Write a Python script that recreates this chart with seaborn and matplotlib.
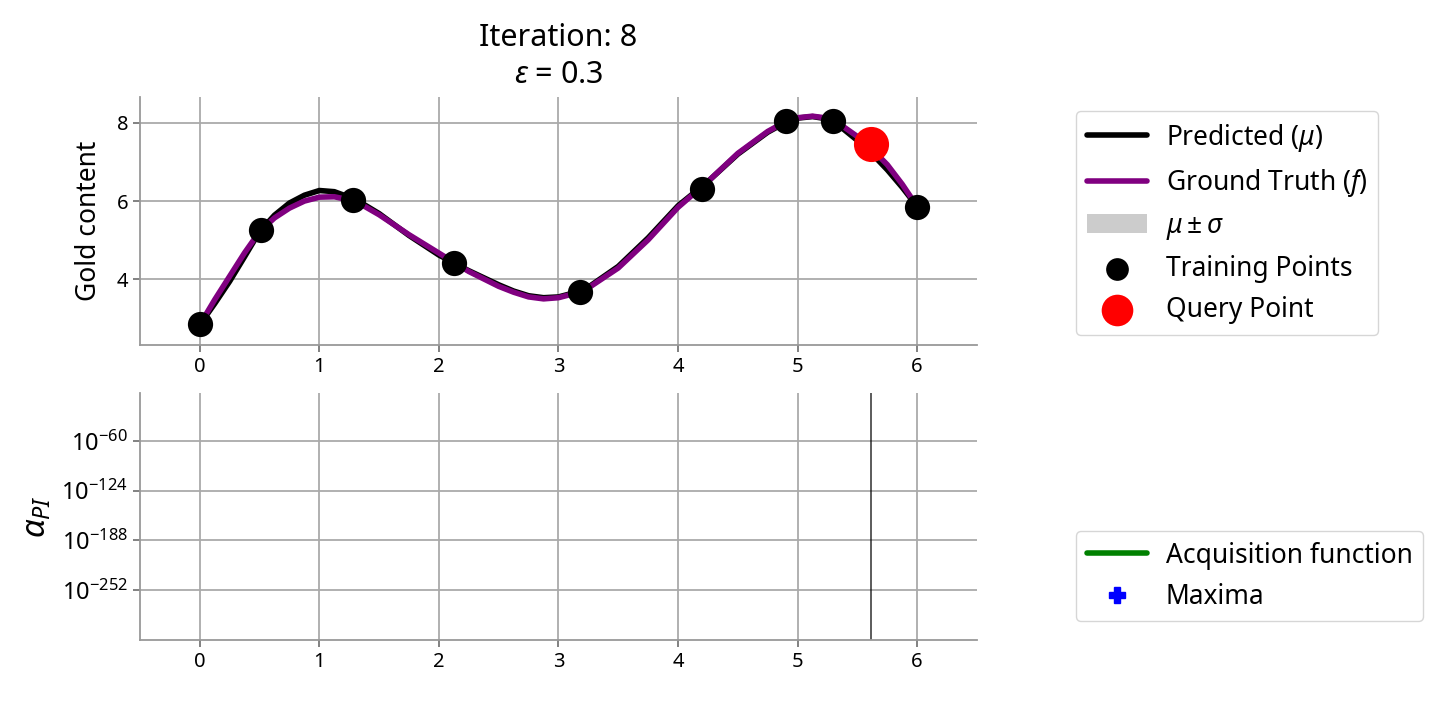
"""Bayesian optimisation snapshot: GP fit on top, PI acquisition below."""

import matplotlib

matplotlib.use("Agg")
import matplotlib.pyplot as plt
import numpy as np
import seaborn as sns
from matplotlib.lines import Line2D
from matplotlib.ticker import FixedLocator, LogFormatterSciNotation, NullLocator

# values
x_grid = [0, 0.125, 0.25, 0.375, 0.5, 0.625, 0.75, 0.875, 1.0, 1.125, 1.25, 1.375,
          1.5, 1.75, 2.0, 2.25, 2.5, 2.625, 2.75, 2.875, 3.0, 3.125, 3.25, 3.5,
          3.75, 4.0, 4.25, 4.5, 4.75, 4.875, 5.0, 5.125, 5.25, 5.375, 5.5, 5.625,
          5.75, 5.875, 6.0]
ground_truth = [2.84, 3.48, 4.08, 4.68, 5.22, 5.57, 5.82, 6.00, 6.10, 6.11, 6.03,
                5.87, 5.65, 5.14, 4.67, 4.20, 3.82, 3.67, 3.55, 3.50, 3.53, 3.63,
                3.78, 4.29, 5.01, 5.84, 6.50, 7.22, 7.78, 7.99, 8.13, 8.17, 8.12,
                7.92, 7.65, 7.32, 6.93, 6.43, 5.86]
predicted = [2.84, 3.38, 3.95, 4.58, 5.22, 5.64, 5.95, 6.15, 6.27, 6.24, 6.10,
             5.91, 5.68, 5.12, 4.62, 4.22, 3.86, 3.70, 3.58, 3.53, 3.55, 3.65,
             3.80, 4.33, 5.06, 5.88, 6.50, 7.20, 7.76, 7.97, 8.12, 8.16, 8.10,
             7.86, 7.55, 7.20, 6.80, 6.35, 5.86]
sigma = [0.0, 0.02, 0.03, 0.02, 0.0, 0.02, 0.02, 0.03, 0.03, 0.02, 0.0, 0.01,
         0.02, 0.03, 0.02, 0.0, 0.02, 0.03, 0.03, 0.03, 0.02, 0.01, 0.0, 0.02,
         0.03, 0.02, 0.0, 0.02, 0.02, 0.01, 0.0, 0.01, 0.0, 0.01, 0.02, 0.02,
         0.02, 0.01, 0.0]

train_x = [0.0, 0.51, 1.28, 2.13, 3.18, 4.20, 4.905, 5.30, 6.0]
train_y = [2.85, 5.25, 6.04, 4.41, 3.67, 6.32, 8.05, 8.05, 5.86]
query_x = [5.61]
query_y = [7.46]

iteration = 8
epsilon = 0.3
pi_ticks = [1e-60, 1e-124, 1e-188, 1e-252]

sns.set_theme(style="whitegrid")
plt.rcParams.update({
    "font.family": ["Noto Sans", "DejaVu Sans"],
    "mathtext.fontset": "custom",
    "mathtext.rm": "Noto Sans",
    "mathtext.it": "Noto Sans:italic",
    "text.color": "black",
    "axes.labelcolor": "black",
    "grid.color": "#aaaaaa",
    "grid.linewidth": 1.3,
    "axes.edgecolor": "#999999",
    "axes.linewidth": 1.3,
    "xtick.color": "#777777",
    "ytick.color": "#777777",
    "xtick.labelcolor": "black",
    "ytick.labelcolor": "black",
    "xtick.major.size": 5,
    "ytick.major.size": 5,
    "xtick.major.width": 1.3,
    "ytick.major.width": 1.3,
    "xtick.bottom": True,
    "ytick.left": True,
})

fig = plt.figure(figsize=(14.42, 7.03), dpi=100)
ax_top = fig.add_axes([0.0971, 0.5092, 0.5804, 0.3528])
ax_bot = fig.add_axes([0.0971, 0.0896, 0.5804, 0.3514])

mu = np.asarray(predicted)
sd = np.asarray(sigma)

sns.lineplot(x=x_grid, y=predicted, ax=ax_top, color="black", lw=4,
             label=r"Predicted ($\mu$)", zorder=3)
sns.lineplot(x=x_grid, y=ground_truth, ax=ax_top, color="purple", lw=4,
             label=r"Ground Truth ($f$)", zorder=4)
ax_top.fill_between(x_grid, mu - sd, mu + sd, color="black", alpha=0.2, lw=0,
                    label=r"$\mu \pm \sigma$", zorder=2)
sns.scatterplot(x=train_x, y=train_y, ax=ax_top, color="black", s=330,
                linewidth=0, label="Training Points", zorder=5)
sns.scatterplot(x=query_x, y=query_y, ax=ax_top, color="red", s=640,
                linewidth=0, label="Query Point", zorder=4.5)

legend_kw = dict(loc="upper left", bbox_transform=fig.transFigure,
                 borderaxespad=0, fontsize=19, handlelength=2.3,
                 handletextpad=0.7, labelspacing=0.5)

ax_top.set_xlim(-0.5, 6.5)
ax_top.set_ylim(2.32, 8.66)
ax_top.set_yticks([4, 6, 8])
ax_top.set_ylabel("Gold content", fontsize=19, labelpad=10)
ax_top.set_title(f"Iteration: {iteration}\n$\\epsilon$ = {epsilon}", fontsize=22,
                 pad=10, linespacing=1.3)
ax_top.legend(bbox_to_anchor=(1076 / 1442, 1 - 111 / 703), markerscale=0.9,
              **legend_kw)

# acquisition: values underflow to ~0 here, only the query line shows
ax_bot.set_yscale("log")
ax_bot.axvline(query_x[0], color="black", lw=1.2, alpha=0.75)
ax_bot.set_xlim(-0.5, 6.5)
ax_bot.set_ylim(10 ** -316.4, 10 ** 1.85)
ax_bot.yaxis.set_major_locator(FixedLocator(pi_ticks))
ax_bot.yaxis.set_major_formatter(LogFormatterSciNotation())
ax_bot.yaxis.set_minor_locator(NullLocator())
ax_bot.set_ylabel(r"$\alpha_{PI}$", fontsize=24, labelpad=6)
handles = [
    Line2D([], [], color="green", lw=4, label="Acquisition function"),
    Line2D([], [], color="blue", marker="P", ls="none", markersize=11,
           label="Maxima"),
]
ax_bot.legend(handles=handles, bbox_to_anchor=(1076 / 1442, 1 - 531 / 703),
              **legend_kw)

for ax in (ax_top, ax_bot):
    ax.set_xticks(range(7))
    ax.tick_params(labelsize=14.5)
    sns.despine(ax=ax)
    ax.set_axisbelow(True)
ax_bot.tick_params(axis="y", labelsize=17)

fig.savefig("out.png", dpi=100)
